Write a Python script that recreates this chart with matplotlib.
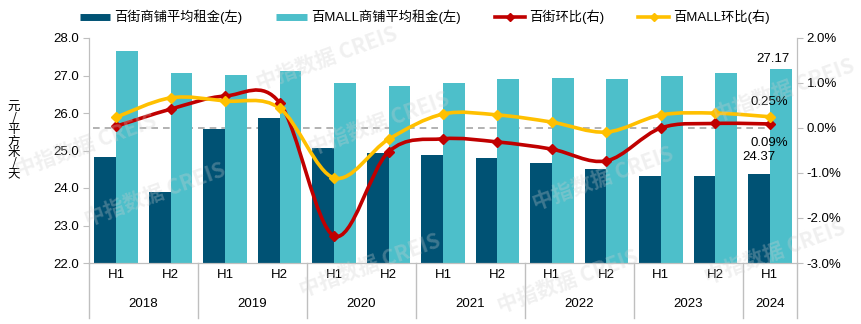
import matplotlib
matplotlib.use("Agg")
import matplotlib.pyplot as plt
import numpy as np
from matplotlib.path import Path
from matplotlib.patches import PathPatch
from matplotlib.lines import Line2D
import matplotlib.transforms as mtransforms

plt.rcParams['font.family'] = ['Liberation Sans', 'Noto Sans CJK SC', 'DejaVu Sans']

halves = ["H1", "H2", "H1", "H2", "H1", "H2", "H1", "H2", "H1", "H2", "H1", "H2", "H1"]
years = ["2018", "2019", "2020", "2021", "2022", "2023", "2024"]
street_rent = [24.83, 23.89, 25.57, 25.87, 25.07, 24.93, 24.88, 24.80, 24.67, 24.51, 24.32, 24.33, 24.37]
mall_rent = [27.65, 27.07, 27.01, 27.12, 26.80, 26.72, 26.80, 26.91, 26.93, 26.91, 26.99, 27.07, 27.17]
street_chg = [0.04, 0.42, 0.71, 0.56, -2.40, -0.53, -0.24, -0.31, -0.47, -0.73, 0.00, 0.10, 0.09]
mall_chg = [0.24, 0.67, 0.60, 0.44, -1.11, -0.25, 0.31, 0.29, 0.13, -0.09, 0.29, 0.33, 0.25]

legend_labels = ["百街商铺平均租金(左)", "百MALL商铺平均租金(左)", "百街环比(右)", "百MALL环比(右)"]

DARK = "#005274"
LIGHT = "#4DBFCA"
RED = "#C00000"
YEL = "#FFC000"
GRID = "#BFBFBF"

fig = plt.figure(figsize=(8.61, 3.24), dpi=100)
ax = fig.add_axes([89/861, 61/324, 708/861, 225/324])
ax2 = ax.twinx()

n = len(halves)
x = np.arange(n)
w = 0.4
ax.bar(x - w/2, [v - 22 for v in street_rent], width=w, bottom=22, color=DARK, zorder=2)
ax.bar(x + w/2, [v - 22 for v in mall_rent], width=w, bottom=22, color=LIGHT, zorder=2)

# zero line of right axis, drawn behind bars
tr = mtransforms.blended_transform_factory(ax.transAxes, ax2.transData)
ax.plot([0.005, 0.995], [0, 0], transform=tr, color="#A6A6A6", ls=(0, (4, 3)), lw=1.2, zorder=1)

ax.set_xlim(-0.5, n - 0.5)
ax.set_ylim(22, 28)
ax.set_yticks(np.arange(22, 28.01, 1.0))
ax.set_yticklabels([f"{v:.1f}" for v in np.arange(22, 28.01, 1.0)], fontsize=9.5)
ax2.set_ylim(-3, 2)
ax2.set_yticks(np.arange(-3, 2.01, 1.0))
ax2.set_yticklabels([f"{v:.1f}%" for v in np.arange(-3, 2.01, 1.0)], fontsize=9.5)

for a in (ax, ax2):
    a.spines['top'].set_visible(False)
    for s in ('left', 'right', 'bottom'):
        a.spines[s].set_color(GRID)
    a.tick_params(axis='y', length=4, color=GRID, pad=3)
ax.set_xticks([])
ax2.set_xticks([])


def smooth_path(xs, ys):
    pts = np.column_stack([xs, ys]).astype(float)
    verts = [pts[0]]
    codes = [Path.MOVETO]
    m = len(pts)
    for i in range(m - 1):
        p0 = pts[i - 1] if i > 0 else pts[i]
        p1 = pts[i]
        p2 = pts[i + 1]
        p3 = pts[i + 2] if i + 2 < m else pts[i + 1]
        c1 = p1 + (p2 - p0) / 6.0
        c2 = p2 - (p3 - p1) / 6.0
        verts += [c1, c2, p2]
        codes += [Path.CURVE4] * 3
    return Path(verts, codes)


for vals, col in ((street_chg, RED), (mall_chg, YEL)):
    ax2.add_patch(PathPatch(smooth_path(x, vals), fill=False, edgecolor=col, lw=2.6, zorder=3))
    ax2.plot(x, vals, ls='none', marker='D', ms=5, color=col, zorder=4)

# category labels
btr = mtransforms.blended_transform_factory(ax.transData, ax.transAxes)
for i, h in enumerate(halves):
    ax.text(i, -12/225, h, transform=btr, ha='center', va='center', fontsize=9.5)
for j, yr in enumerate(years):
    cx = 2 * j + 0.5 if 2 * j + 1 < n else 2 * j
    ax.text(cx, -41/225, yr, transform=btr, ha='center', va='center', fontsize=9.5)
for b in list(np.arange(-0.5, n, 2.0)) + [n - 0.5]:
    ax.plot([b, b], [0, -55/225], transform=btr, color=GRID, lw=1, clip_on=False)

# data labels
ax.text(n - 1 + w/2 - 0.15, mall_rent[-1] + 0.12, f"{mall_rent[-1]:.2f}", ha='center', va='bottom', fontsize=9.5)
ax.text(n - 1 - w/2, street_rent[-1] + 0.3, f"{street_rent[-1]:.2f}", ha='center', va='bottom', fontsize=9.5)
ax2.text(n - 1, mall_chg[-1] + 0.2, f"{mall_chg[-1]:.2f}%", ha='center', va='bottom', fontsize=9.5)
ax2.text(n - 1, street_chg[-1] - 0.28, f"{street_chg[-1]:.2f}%", ha='center', va='top', fontsize=9.5)

# y label (stacked characters)
fig.text(14/861, 183/324, "元\n/\n平\n方\n米\n/\n天", ha='center', va='center', fontsize=9,
         linespacing=0.82, family=['Noto Sans CJK SC', 'DejaVu Sans'])

# watermarks
for (wx, wy) in [(0.38, 0.82), (0.44, 0.62), (0.10, 0.55), (0.43, 0.18), (0.70, 0.45), (0.91, 0.72),
                 (0.18, 0.40), (0.66, 0.13), (0.90, 0.22)]:
    fig.text(wx, wy, "中指数据 CREIS", fontsize=15, color="#CFCFCF", alpha=0.3, rotation=20,
             ha='center', va='center', fontweight='bold', zorder=10,
             family=['Noto Sans CJK SC', 'DejaVu Sans'])

handles = [Line2D([], [], color=DARK, lw=5, solid_capstyle='butt'),
           Line2D([], [], color=LIGHT, lw=5, solid_capstyle='butt'),
           Line2D([], [], color=RED, lw=2.6, marker='D', ms=4),
           Line2D([], [], color=YEL, lw=2.6, marker='D', ms=4)]
fig.legend(handles, legend_labels, loc='center', bbox_to_anchor=(0.493, 0.948), ncol=4, frameon=False,
           fontsize=9.5, handlelength=2.3, handletextpad=0.3, columnspacing=2.6,
           prop={'family': ['Liberation Sans', 'Noto Sans CJK SC'], 'size': 9.5})

fig.savefig("out.png", dpi=100)
